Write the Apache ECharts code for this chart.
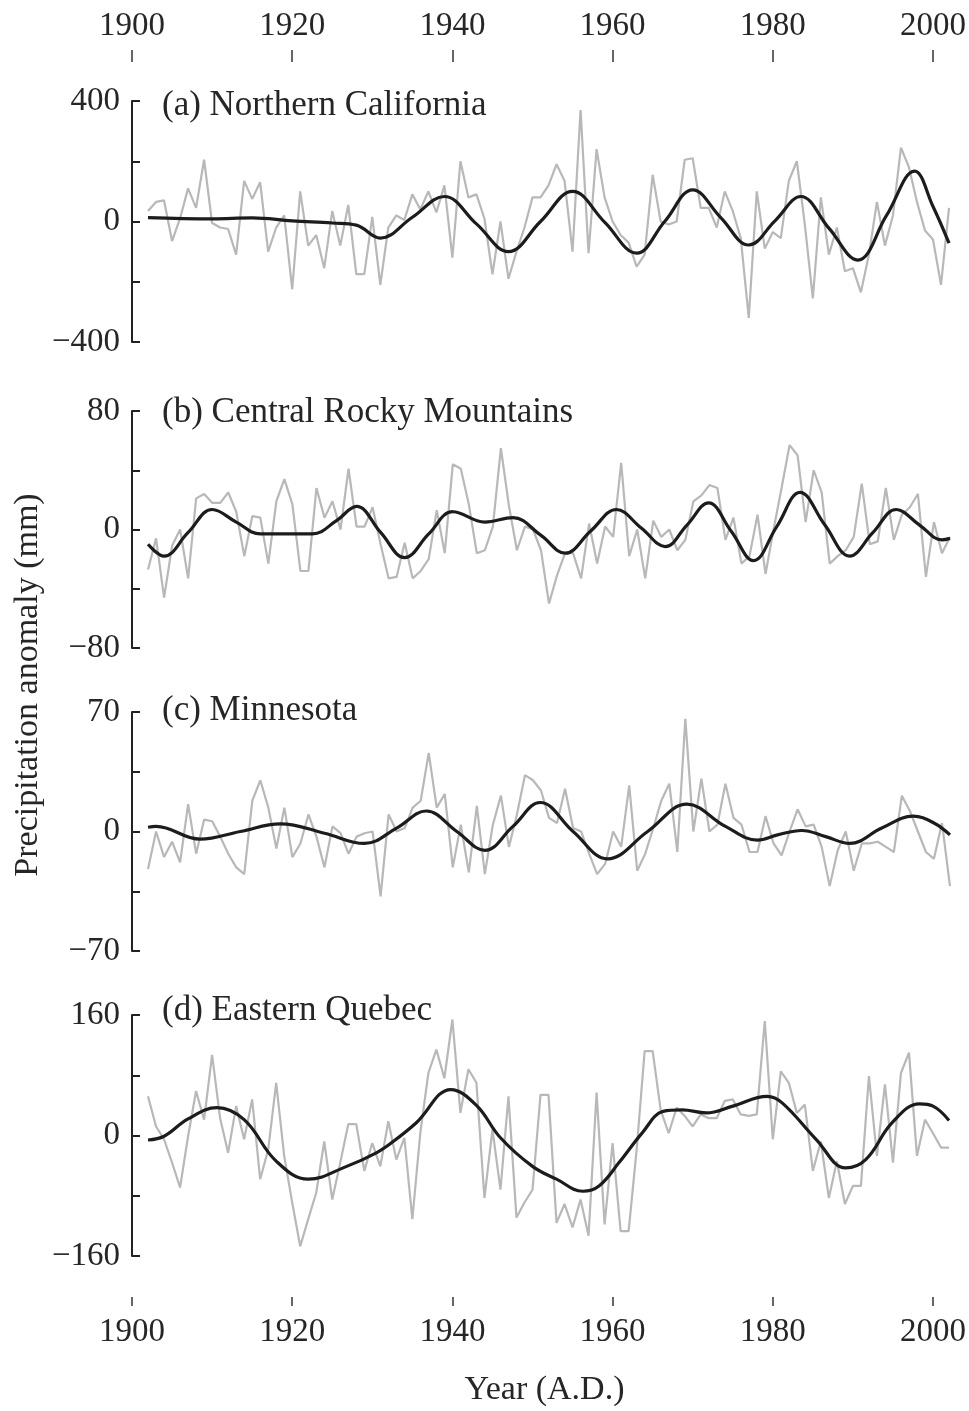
<!DOCTYPE html>
<html>
<head>
<meta charset="utf-8">
<script src="https://cdn.jsdelivr.net/npm/echarts@6/dist/echarts.min.js"></script>
<style>
  html, body { margin: 0; padding: 0; background: #ffffff; }
  #chart { width: 969px; height: 1411px; }
</style>
</head>
<body>
<div id="chart"></div>
<script>
// Annual precipitation anomalies (mm), one value per year from 1902 to 2002
const FIRST_YEAR = 1902;
const LAST_YEAR = 2002;

const californiaAnnual = [
  35, 65, 70, -65, 10, 110, 45, 205, -5, -20,
  -25, -110, 135, 75, 130, -100, -20, 20, -225, 100,
  -80, -45, -155, 35, -80, 55, -175, -175, 15, -210,
  -20, 20, 5, 90, 40, 100, 30, 120, -120, 200,
  80, 90, 10, -175, 0, -190, -100, -20, 80, 80,
  120, 190, 135, -100, 370, -105, 240, 80, 0, -45,
  -70, -150, -110, 155, 0, -10, 0, 205, 210, 45,
  45, -20, 100, 35, -55, -320, 100, -90, -35, -55,
  135, 200, -10, -255, 80, -110, -20, -165, -155, -235,
  -110, 65, -80, 20, 245, 180, 65, -30, -60, -210,
  45
];
const rockiesAnnual = [
  -27, -6, -46, -11, 0, -33, 21, 24, 18, 18,
  25, 12, -18, 9, 8, -23, 19, 34, 17, -28,
  -28, 28, 8, 19, 0, 41, 2, 2, 15, -10,
  -33, -32, -9, -33, -28, -20, 13, -16, 44, 41,
  17, -16, -14, 2, 55, 16, -14, 2, 0, -14,
  -50, -31, -16, -16, -33, 4, -23, 2, -5, 45,
  -18, 0, -33, 6, -5, 0, -14, -7, 19, 23,
  30, 28, -7, 8, -23, -18, 10, -30, 0, 28,
  57, 50, 5, 40, 25, -23, -18, -14, -5, 31,
  -10, -8, 28, -7, 10, 15, 24, -32, 5, -16,
  -5
];
const minnesotaAnnual = [
  -22, 0, -15, -6, -18, 16, -13, 7, 6, -3,
  -13, -21, -25, 18, 30, 14, -10, 14, -15, -7,
  10, -3, -21, 3, -1, -13, -3, -1, 0, -38,
  10, 0, 2, 14, 18, 46, 14, 22, -21, 4,
  -24, 15, -25, 4, 21, -9, 10, 33, 30, 24,
  8, 5, 25, 2, 0, -13, -25, -19, 0, -9,
  27, -23, -13, 2, 18, 28, -12, 66, 0, 31,
  0, 4, 28, 8, 4, -12, -12, 9, -7, -14,
  0, 13, 3, 4, -9, -32, -11, 0, -23, -7,
  -7, -6, -9, -12, 21, 12, 0, -12, -16, 5,
  -32
];
const quebecAnnual = [
  52, 12, -5, -36, -69, -1, 59, 21, 107, 23,
  -23, 39, -5, 48, -58, -19, 70, -27, -89, -147,
  -111, -76, -8, -85, -36, 15, 15, -47, -10, -41,
  19, -32, -3, -111, 4, 83, 114, 76, 154, 30,
  88, 70, -83, 8, -72, 52, -109, -89, -72, 54,
  54, -116, -91, -122, -85, -133, 57, -118, -10, -127,
  -127, -19, 112, 112, 34, 3, 37, 26, 12, 28,
  23, 23, 46, 48, 28, 26, 28, 152, -5, 85,
  70, 30, 41, -47, -8, -83, -34, -91, -67, -67,
  79, -27, 68, -36, 83, 110, -27, 21, 3, -16,
  -16
];

// Low-pass filtered curves, read at their turning points and crossings
const californiaSmoothYears = [
  1902, 1910, 1915, 1920, 1925, 1928, 1931, 1935, 1939, 1943,
  1947, 1951, 1955, 1959, 1963, 1966.5, 1970, 1973.5, 1977, 1980.3,
  1983.5, 1987, 1990.6, 1994.2, 1997.7, 2000, 2002
];
const californiaSmooth = [
  13, 9, 12, 2, -5, -12, -55, 14, 83, -8,
  -100, 0, 100, -2, -105, 0, 105, 13, -78, 3,
  83, -22, -128, 20, 167, 50, -72
];
const rockiesSmoothYears = [
  1902, 1904, 1907, 1910, 1913, 1916, 1922.5, 1925.5, 1928, 1931,
  1934, 1937, 1940, 1944, 1947.5, 1951, 1954, 1957.2, 1960.4, 1963.5,
  1966.5, 1969.2, 1971.9, 1974.7, 1977.5, 1980.4, 1983.3, 1986.4, 1989.5, 1992.4,
  1995.3, 1998.2, 2001, 2002
];
const rockiesSmooth = [
  -10, -18, -2, 13.5, 5, -3, -3, 6, 15.6, -2,
  -19, -3, 12, 5, 8, -4, -16, -1, 13.5, 1,
  -11.5, 3, 18, -1, -21, 2, 25, 3, -18, -2,
  13.5, 3, -7, -6
];
const minnesotaSmoothYears = [
  1902, 1903, 1908.5, 1913.5, 1918.5, 1924, 1929, 1933, 1936.7, 1940.5,
  1944, 1947.5, 1950.9, 1955, 1959.3, 1964.3, 1969.2, 1974, 1978, 1980.5,
  1983.5, 1986.5, 1989.5, 1993.5, 1997.4, 2000, 2002
];
const minnesotaSmooth = [
  2.5, 3, -4.5, 0, 4.5, -1, -7, 2, 12, 0,
  -11, 3, 17, 0, -16, 0, 16, 3, -5, -2,
  0.6, -3, -7, 2, 9, 5, -2
];
const quebecSmoothYears = [
  1902, 1904, 1907, 1910.6, 1914, 1918, 1922, 1926.8, 1930.5, 1932.6,
  1935.5, 1939.8, 1943, 1946, 1950, 1953, 1956.3, 1958.3, 1960.8, 1963.7,
  1966.3, 1968.7, 1971.7, 1975, 1979.3, 1981.2, 1985.4, 1989.1, 1991.6, 1994.9,
  1998.3, 2000, 2002
];
const quebecSmooth = [
  -6, -1, 22, 37, 21, -34, -58, -41, -23, -8,
  17, 61, 40, -3, -41, -58, -74, -67, -36, 3.5,
  32, 34, 30, 39, 52, 43, -5, -43, -32, 17,
  42, 39, 20
];

const panelTitles = [
  '(a) Northern California',
  '(b) Central Rocky Mountains',
  '(c) Minnesota',
  '(d) Eastern Quebec'
];
const axisLimits = [400, 80, 70, 160];
const yearTicks = [1900, 1920, 1940, 1960, 1980, 2000];

// Year list for the annual series
const annualYears = [];
for (let y = FIRST_YEAR; y <= LAST_YEAR; y++) annualYears.push(y);

const annualSeries = [californiaAnnual, rockiesAnnual, minnesotaAnnual, quebecAnnual];
const smoothSeries = [californiaSmooth, rockiesSmooth, minnesotaSmooth, quebecSmooth];
const smoothYears = [californiaSmoothYears, rockiesSmoothYears, minnesotaSmoothYears, quebecSmoothYears];

// Layout of the four stacked panels
const FONT = '"Liberation Serif", "Times New Roman", serif';
const INK = '#262626';
const panelTops = [101, 411, 712, 1015];
const panelHeights = [241, 237, 239, 241];
const titleCenters = [106, 413, 711, 1011];
const PLOT_LEFT = 132;
const PLOT_WIDTH = 826;

function fmtTick(v) {
  return v < 0 ? '\u2212' + Math.abs(v) : String(v);
}

const grids = [], xAxes = [], yAxes = [], series = [];
for (let i = 0; i < 4; i++) {
  const lim = axisLimits[i];
  grids.push({ left: PLOT_LEFT, width: PLOT_WIDTH, top: panelTops[i], height: panelHeights[i] });

  const isTop = i === 0, isBottom = i === 3;
  xAxes.push({
    type: 'value',
    gridIndex: i,
    min: 1900,
    max: 2003,
    interval: 20,
    show: isTop || isBottom,
    position: isTop ? 'top' : 'bottom',
    offset: isTop ? 39 : 41,
    axisLine: { show: false, onZero: false },
    axisTick: {
      show: true,
      length: isTop ? 12 : 9,
      customValues: yearTicks,
      lineStyle: { color: '#333', width: 1.5 }
    },
    axisLabel: {
      customValues: yearTicks,
      formatter: v => String(v),
      fontFamily: FONT,
      fontSize: 33,
      color: INK,
      margin: 19
    },
    splitLine: { show: false },
    name: isBottom ? 'Year (A.D.)' : '',
    nameLocation: 'middle',
    nameGap: 76,
    nameTextStyle: { fontFamily: FONT, fontSize: 34, color: INK }
  });

  yAxes.push({
    type: 'value',
    gridIndex: i,
    min: -lim,
    max: lim,
    interval: lim / 2,
    axisLine: { show: true, onZero: false, lineStyle: { color: '#222', width: 2 } },
    axisTick: { show: true, inside: true, length: 8, lineStyle: { color: '#222', width: 2 } },
    axisLabel: {
      customValues: [-lim, 0, lim],
      formatter: fmtTick,
      fontFamily: FONT,
      fontSize: 33,
      color: INK,
      margin: 12
    },
    splitLine: { show: false }
  });

  series.push({
    type: 'line',
    xAxisIndex: i,
    yAxisIndex: i,
    data: annualYears.map((y, k) => [y, annualSeries[i][k]]),
    showSymbol: false,
    silent: true,
    z: 2,
    lineStyle: { color: '#b8b8b8', width: 2.2 }
  });
  series.push({
    type: 'line',
    xAxisIndex: i,
    yAxisIndex: i,
    data: smoothYears[i].map((y, k) => [y, smoothSeries[i][k]]),
    smooth: 0.4,
    showSymbol: false,
    silent: true,
    z: 3,
    lineStyle: { color: '#1c1c1c', width: 3.2 }
  });
}

const graphics = panelTitles.map((t, i) => ({
  type: 'text',
  x: 162,
  y: titleCenters[i],
  style: {
    text: t,
    font: '35px ' + FONT,
    fill: INK,
    align: 'left',
    verticalAlign: 'middle'
  }
}));
graphics.push({
  type: 'text',
  x: 28,
  y: 685,
  rotation: Math.PI / 2,
  style: {
    text: 'Precipitation anomaly (mm)',
    font: '34px ' + FONT,
    fill: INK,
    align: 'center',
    verticalAlign: 'middle'
  }
});

const chart = echarts.init(document.getElementById('chart'), null, { renderer: 'canvas' });
chart.setOption({
  backgroundColor: '#ffffff',
  animation: false,
  grid: grids,
  xAxis: xAxes,
  yAxis: yAxes,
  series: series,
  graphic: graphics
});
</script>
</body>
</html>
